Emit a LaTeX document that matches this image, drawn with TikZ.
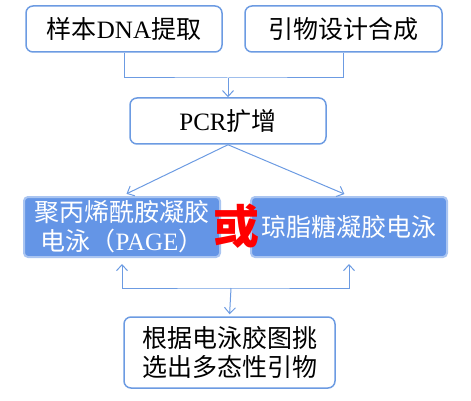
\documentclass[tikz,border=0pt]{standalone}
\usepackage{fontspec}
\setmainfont{Noto Sans CJK SC}
\newfontfamily\latin{Liberation Serif}
\usetikzlibrary{positioning, arrows.meta}
\definecolor{lineblue}{HTML}{6C9BE2}
\definecolor{gelblue}{HTML}{6495E6}
\tikzset{
  stepbox/.style={draw=lineblue, line width=1.5pt, rounded corners=7pt, fill=white,
    minimum height=46pt, inner sep=0pt, align=center,
    font=\fontsize{25}{29}\selectfont},
  gelbox/.style={draw=gelblue!55, line width=2pt, fill=gelblue, rounded corners=4pt,
    text=white, minimum width=196pt, minimum height=60pt, inner sep=0pt, align=center,
    font=\fontsize{25}{29}\selectfont},
  link/.style={draw=lineblue, line width=1pt},
  >={Straight Barb[length=6pt, width=11pt]}
}
\begin{document}
\begin{tikzpicture}[x=1pt, y=1pt]
  \useasboundingbox (0,0) rectangle (471,-401);
  % top row
  \node[stepbox, minimum width=196pt] (dna) at (124,-29) {样本{\latin DNA}提取};
  \node[stepbox, minimum width=197pt] (primer) at (343.5,-29) {引物设计合成};
  \node[stepbox, minimum width=196pt] (pcr) at (228,-121) {{\latin PCR}扩增};
  % gels
  \node[gelbox] (page) at (122,-227) {聚丙烯酰胺凝胶\\电泳（{\latin PAGE}）};
  \node[gelbox] (agar) at (349,-227) {琼脂糖凝胶电泳};
  \node[text=red, font=\fontsize{46}{46}\selectfont\bfseries] (huo) at (236,-226) {或};
  % result
  \node[stepbox, minimum width=211pt, minimum height=71pt] (pick) at (229.5,-352.5)
    {根据电泳胶图挑\\选出多态性引物};
  % connectors
  \coordinate (join) at (228,-78);
  \draw[link] (dna.south) |- (join) -| (primer.south);
  \draw[link, ->] (join) -- (pcr.north);
  \draw[link, ->, shorten >=5pt] (pcr.south) -- (page.north);
  \draw[link, ->, shorten >=5pt] (pcr.south) -- (agar.north);
  \coordinate (split) at (231,-288);
  \draw[link, <->, shorten <=6pt, shorten >=6pt] (page.south) |- (split) -| (agar.south);
  \draw[link, ->, shorten >=2pt] (split) -- (pick.north);
\end{tikzpicture}
\end{document}
